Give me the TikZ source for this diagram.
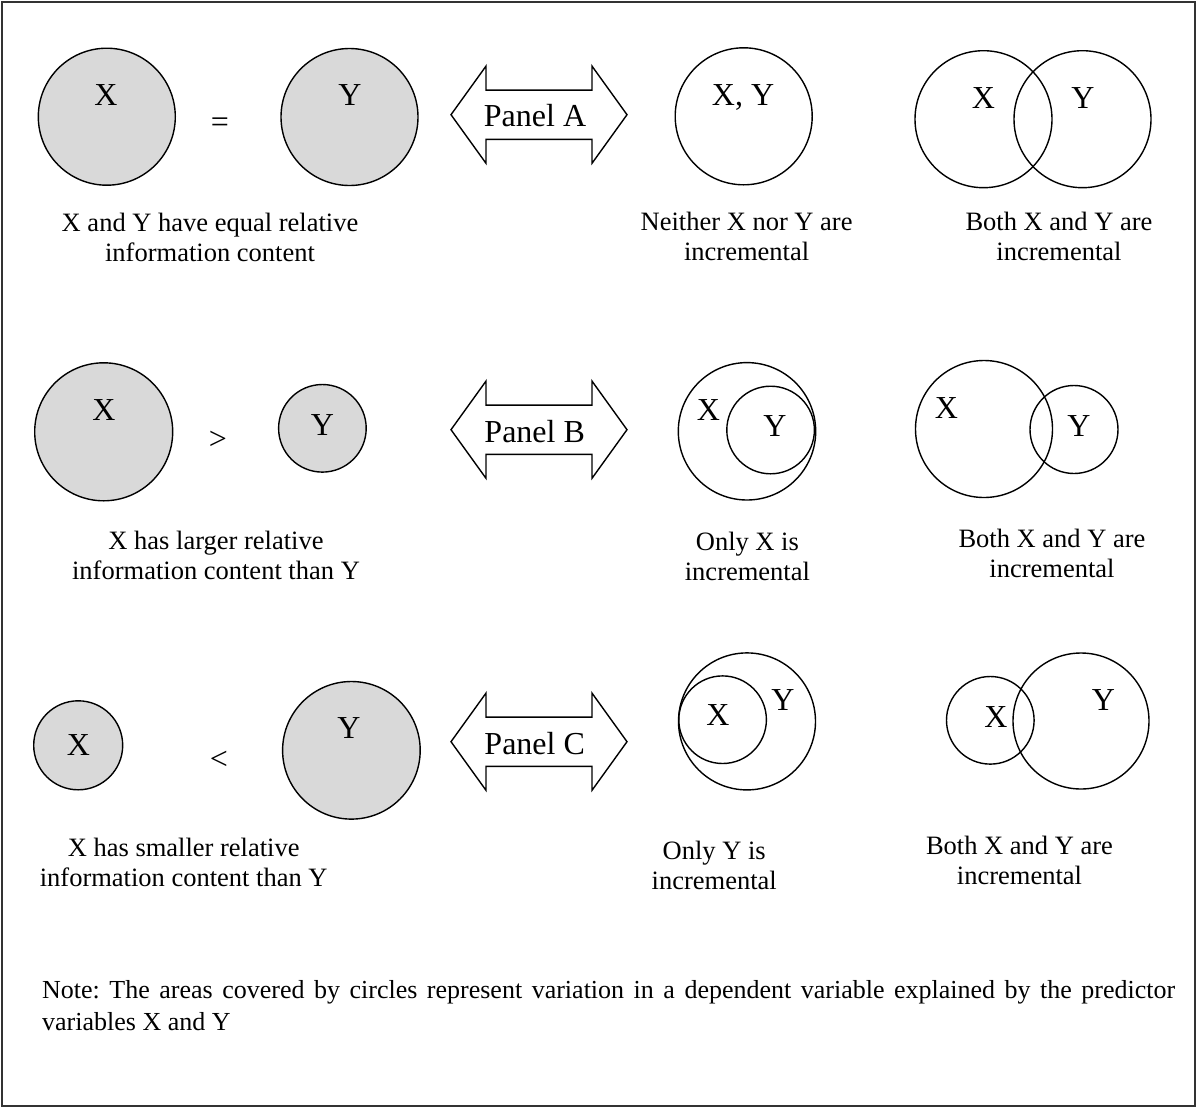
\documentclass[tikz,border=0pt]{standalone}
\usepackage{fontspec}
\setmainfont{Liberation Serif}
\usetikzlibrary{calc}
\frenchspacing
\definecolor{shade}{RGB}{217,217,217}
\newcommand{\lblfont}{\fontsize{32}{38}\selectfont}
\newcommand{\capfont}{\fontsize{26.5}{30}\selectfont}
\newcommand{\notefont}{\fontsize{26}{31.7}\selectfont}
% double-headed block arrow around a named centre coordinate
\newcommand{\panelarrow}[1]{%
  \draw[arrowline] ($(#1)+(-88,0)$) -- ++(35,-48.6) -- ++(0,23.95) -- ++(106,0)
    -- ++(0,-23.95) -- ++(35,48.6) -- ++(-35,48.6) -- ++(0,-23.95) -- ++(-106,0)
    -- ++(0,23.95) -- cycle;}
\begin{document}
\begin{tikzpicture}[x=1pt,y=-1pt,
  shadedcirc/.style={circle, draw=black, line width=1.4pt, fill=shade, inner sep=0pt, minimum size=#1},
  opencirc/.style={circle, draw=black, line width=1.4pt, inner sep=0pt, minimum size=#1},
  lbl/.style={font=\lblfont, inner sep=0pt, text depth=0pt},
  capt/.style={font=\capfont, align=center, inner sep=0pt},
  arrowline/.style={draw=black, line width=1.4pt, fill=white, line join=miter},
  frame/.style={draw=black!80, line width=2pt}]

\useasboundingbox (0,0) rectangle (1197,1109);
\draw[frame] (2,2) rectangle (1195,1106);

% ---------------- Row 1 : Panel A ----------------
\node[shadedcirc=137] (ax) at (106.8,116.7) {};
\node[shadedcirc=137] (ay) at (349.5,117) {};
\node[lbl] (axl) at (106,95) {X};
\node[lbl] (ayl) at (350,95) {Y};
\node[lbl] (eqs) at (220,125) {=};
\coordinate (arrA) at (539,114.7);
\panelarrow{arrA}
\node[lbl] (pa) at (535,115) {Panel A};
\node[opencirc=137] (axy) at (743.7,116.3) {};
\node[lbl] (axyl) at (743,95) {X, Y};
\node[opencirc=137] (avx) at (983.5,119.2) {};
\node[opencirc=137] (avy) at (1082.5,119.2) {};
\node[lbl] (avxl) at (983.5,98.3) {X};
\node[lbl] (avyl) at (1083,98.3) {Y};
\node[capt] (ca1) at (210,237.8) {X and Y have equal relative\\information content};
\node[capt] (ca2) at (746.6,236.7) {Neither X nor Y are\\incremental};
\node[capt] (ca3) at (1059,236.2) {Both X and Y are\\incremental};

% ---------------- Row 2 : Panel B ----------------
\node[shadedcirc=138] (bx) at (103.7,431.8) {};
\node[shadedcirc=87.6] (by) at (322.4,428.3) {};
\node[lbl] (bxl) at (104,410) {X};
\node[lbl] (byl) at (322.4,425) {Y};
\node[lbl] (gts) at (218,440) {>};
\coordinate (arrB) at (539,429.7);
\panelarrow{arrB}
\node[lbl] (pb) at (534.7,431.7) {Panel B};
\node[opencirc=137.4] (box) at (747,431.3) {};
\node[opencirc=87.6] (boy) at (770.6,430) {};
\node[lbl] (boxl) at (708.5,410) {X};
\node[lbl] (boyl) at (775,426) {Y};
\node[opencirc=137] (bvx) at (984,429) {};
\node[opencirc=88] (bvy) at (1074,429.5) {};
\node[lbl] (bvxl) at (946.5,408.3) {X};
\node[lbl] (bvyl) at (1079,426) {Y};
\node[capt] (cb1) at (216,555) {X has larger relative\\information content than Y};
\node[capt] (cb2) at (747.4,556.7) {Only X is\\incremental};
\node[capt] (cb3) at (1052,553.3) {Both X and Y are\\incremental};

% ---------------- Row 3 : Panel C ----------------
\node[shadedcirc=89] (cx) at (78.2,745.3) {};
\node[shadedcirc=137.6] (cy) at (351.4,750.3) {};
\node[lbl] (cxl) at (78.4,745) {X};
\node[lbl] (cyl) at (349,728.3) {Y};
\node[lbl] (lts) at (219,760) {<};
\coordinate (arrC) at (539,741.7);
\panelarrow{arrC}
\node[lbl] (pc) at (534.7,743.3) {Panel C};
\node[opencirc=137] (coy) at (747,721.4) {};
\node[opencirc=87.6] (cox) at (722.6,719.7) {};
\node[lbl] (coxl) at (718,715) {X};
\node[lbl] (coyl) at (782.8,700) {Y};
\node[opencirc=87.6] (cvx) at (990.3,720.3) {};
\node[opencirc=136] (cvy) at (1081,721) {};
\node[lbl] (cvxl) at (996,716.7) {X};
\node[lbl] (cvyl) at (1103.4,700) {Y};
\node[capt] (cc1) at (183.7,862.5) {X has smaller relative\\information content than Y};
\node[capt] (cc2) at (714.2,865) {Only Y is\\incremental};
\node[capt] (cc3) at (1019.5,860) {Both X and Y are\\incremental};

% ---------------- Note ----------------
\node[font=\notefont, anchor=west, inner sep=0pt, text width=1133pt, align=justify] (note) at (42,1005.8)
  {Note: The areas covered by circles represent variation in a dependent variable explained by the predictor variables X and Y};
\end{tikzpicture}
\end{document}
